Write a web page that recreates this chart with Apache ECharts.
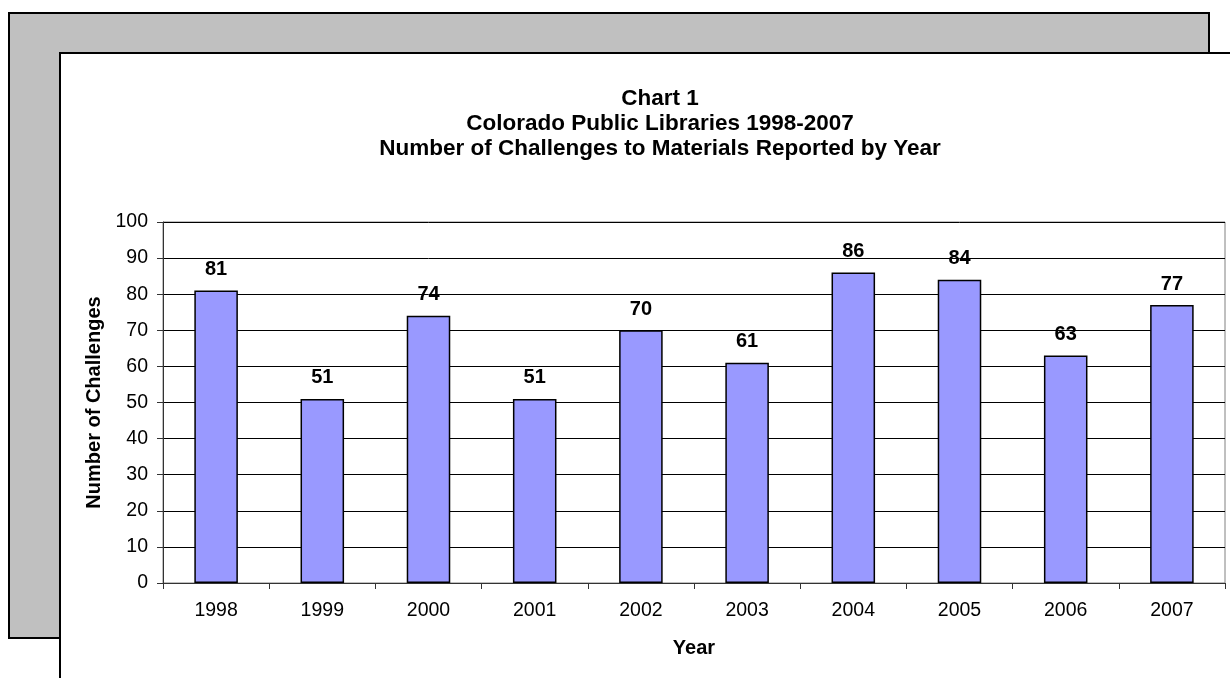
<!DOCTYPE html>
<html>
<head>
<meta charset="utf-8">
<script src="https://cdn.jsdelivr.net/npm/echarts@6/dist/echarts.min.js"></script>
<style>html,body{margin:0;padding:0;background:#fff;}#c{width:1230px;height:678px;}</style>
</head>
<body>
<div id="c"></div>
<script>
const years = ['1998','1999','2000','2001','2002','2003','2004','2005','2006','2007'];
const challenges = [81, 51, 74, 51, 70, 61, 86, 84, 63, 77];
const yTicks = {min: 0, max: 100, interval: 10};
const titleLines = ['Chart 1', 'Colorado Public Libraries 1998-2007', 'Number of Challenges to Materials Reported by Year'];

const chart = echarts.init(document.getElementById('c'));
const F = 'Liberation Sans, Arial, sans-serif';
chart.setOption({
  animation: false,
  textStyle: {fontFamily: F},
  graphic: [
    {type: 'rect', z: -10, shape: {x: 9, y: 13, width: 1200, height: 625}, style: {fill: '#C0C0C0', stroke: '#000', lineWidth: 2}},
    {type: 'rect', z: -9, shape: {x: 60, y: 53, width: 1180, height: 640}, style: {fill: '#fff', stroke: '#000', lineWidth: 2}}
  ],
  title: {
    text: titleLines.join('\n'),
    left: 655, top: 81, textAlign: 'center',
    textStyle: {fontFamily: F, fontSize: 22.5, fontWeight: 'bold', color: '#000', lineHeight: 25}
  },
  grid: {left: 163, top: 222, width: 1062, height: 361, containLabel: false, show: true, borderColor: '#808080', borderWidth: 1, backgroundColor: 'transparent'},
  xAxis: {
    type: 'category', data: years,
    name: 'Year', nameLocation: 'middle', nameGap: 55,
    nameTextStyle: {fontFamily: F, fontSize: 20, fontWeight: 'bold', color: '#000'},
    axisLine: {lineStyle: {color: '#333', width: 1}},
    axisTick: {show: true, inside: false, length: 6, lineStyle: {color: '#333'}},
    axisLabel: {fontFamily: F, fontSize: 19.5, color: '#000', margin: 18},
    splitLine: {show: false}
  },
  yAxis: {
    type: 'value', min: yTicks.min, max: yTicks.max, interval: yTicks.interval,
    name: 'Number of Challenges', nameLocation: 'middle', nameGap: 55, nameRotate: 90,
    nameTextStyle: {fontFamily: F, fontSize: 20, fontWeight: 'bold', color: '#000'},
    axisLine: {show: true, lineStyle: {color: '#333', width: 1}},
    axisTick: {show: true, inside: false, length: 6, lineStyle: {color: '#333'}},
    axisLabel: {fontFamily: F, fontSize: 19.5, color: '#000', margin: 15},
    splitLine: {show: true, lineStyle: {color: '#000', width: 1}}
  },
  series: [{
    type: 'bar', data: challenges, barWidth: '41%',
    itemStyle: {color: '#9999FF', borderColor: '#000', borderWidth: 1.5},
    label: {show: true, position: 'top', distance: 11, fontFamily: F, fontSize: 20, fontWeight: 'bold', color: '#000'}
  }]
});
</script>
</body>
</html>
